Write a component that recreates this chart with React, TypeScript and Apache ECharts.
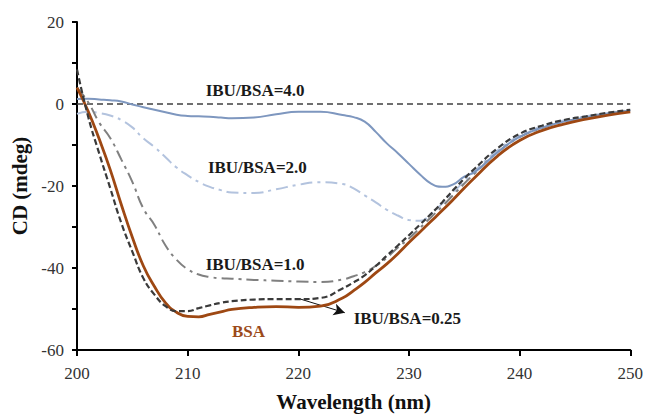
import React, { useEffect, useRef } from "react";
import * as echarts from "echarts";

const wavelengths = [200, 201, 202, 203, 204, 205, 206, 207, 208, 209, 210, 211, 212, 213, 214, 216, 218, 220, 222, 224, 225, 226, 227, 228, 229, 230, 231, 232, 233, 234, 235, 236, 238, 240, 242, 244, 246, 248, 250];

const bsa = [4, -1.7, -8.5, -16, -24.5, -32.5, -39.5, -44.5, -48.5, -50.8, -51.8, -51.9, -51.3, -50.7, -50.1, -49.6, -49.4, -49.6, -49.3, -47.3, -45.5, -43.5, -41.2, -39, -36.5, -33.8, -31.2, -28.6, -26, -23.3, -20.5, -17.8, -12.7, -8.9, -6.5, -4.9, -3.7, -2.7, -1.9];

const ratio025 = [8.4, -3, -12, -20.5, -29, -36, -42.5, -46.5, -49.3, -50.5, -50.5, -49.8, -49.1, -48.5, -48.1, -47.7, -47.6, -47.6, -47.3, -45, -43.5, -41.8, -39.5, -37, -34.5, -32, -29.4, -26.8, -24, -21, -18.2, -15.6, -10.8, -7.3, -5.3, -3.9, -3.0, -2.1, -1.4];

const ratio10 = [4, 0.5, -4.5, -8.3, -13.5, -19, -25.5, -29.5, -34.5, -38, -40.3, -41.6, -42.2, -42.5, -42.6, -42.9, -43.1, -43.3, -43.4, -42.8, -42, -41, -39.5, -37.5, -35, -32.8, -30.2, -27.6, -25, -22.2, -19.4, -16.8, -11.8, -8.1, -5.9, -4.3, -3.3, -2.4, -1.6];

const ratio20 = [-2.4, -1.9, -2.2, -2.8, -3.9, -5.7, -8.4, -10.5, -13, -15.5, -17.4, -19, -20.2, -21, -21.6, -21.7, -20.8, -19.7, -19.1, -19.5, -20.6, -22.3, -24, -25.8, -27.2, -28.3, -28.5, -26.8, -24.3, -21.6, -18.8, -16.2, -11.3, -7.7, -5.5, -4.0, -3.0, -2.2, -1.5];

const ratio40 = [1.2, 1.3, 1.1, 0.9, 0.6, -0.1, -0.8, -1.4, -2.0, -2.6, -2.9, -3.0, -3.1, -3.3, -3.5, -3.3, -2.5, -1.9, -1.9, -2.7, -3.2, -4.3, -6.8, -9.6, -12, -14.6, -17.2, -19.4, -20.2, -19.6, -17.7, -16.5, -11.8, -8.0, -5.8, -4.3, -3.3, -2.4, -1.6];

const xTicks = [200, 210, 220, 230, 240, 250];
const yLabelStep = 20;

// annotation texts: [text, wavelength, value, align, color]
const annotations: [string, number, number, string, string][] = [
  ["IBU/BSA=4.0", 216.1, 3.3, "center", "#1a1a1a"],
  ["IBU/BSA=2.0", 216.3, -15.5, "center", "#1a1a1a"],
  ["IBU/BSA=1.0", 216.1, -39.1, "center", "#1a1a1a"],
  ["BSA", 215.5, -55.6, "center", "#9C4A1A"],
  ["IBU/BSA=0.25", 225.0, -52.3, "left", "#1a1a1a"],
];
const arrowFrom = [220.1, -47.5];
const arrowTo = [224.2, -50.9];

const pair = (ys: number[]) => wavelengths.map((w, i) => [w, ys[i]]);

export default function App() {
  const ref = useRef<HTMLDivElement>(null);
  useEffect(() => {
    if (!ref.current) return;
    const chart = echarts.init(ref.current, undefined, { renderer: "svg" });
    const serif = "Liberation Serif";
    const lineSeries = (name: string, ys: number[], color: string, width: number, type: any, z: number) => ({
      name,
      type: "line",
      data: pair(ys),
      smooth: 0.5,
      showSymbol: false,
      symbol: "none",
      z,
      lineStyle: { color, width, type },
    });
    chart.setOption({
      animation: false,
      textStyle: { fontFamily: serif },
      grid: { left: 77, right: 15, top: 22, bottom: 60, containLabel: false },
      xAxis: {
        type: "value",
        min: xTicks[0],
        max: xTicks[xTicks.length - 1],
        interval: 10,
        name: "Wavelength (nm)",
        nameLocation: "middle",
        nameGap: 41,
        nameTextStyle: { fontFamily: serif, fontWeight: "bold", fontSize: 21, color: "#111" },
        axisLine: { onZero: false, lineStyle: { color: "#000", width: 2 } },
        axisTick: { show: true, length: 6, lineStyle: { color: "#000", width: 2 } },
        axisLabel: { fontFamily: serif, fontSize: 17, color: "#333", margin: 15 },
        splitLine: { show: false },
      },
      yAxis: {
        type: "value",
        min: -60,
        max: 20,
        interval: 10,
        name: "CD (mdeg)",
        nameLocation: "middle",
        nameGap: 45,
        nameTextStyle: { fontFamily: serif, fontWeight: "bold", fontSize: 21, color: "#111" },
        axisLine: { show: true, onZero: false, lineStyle: { color: "#000", width: 2 } },
        axisTick: { show: true, length: 5, lineStyle: { color: "#000", width: 2 } },
        axisLabel: {
          fontFamily: serif,
          fontSize: 17,
          color: "#333",
          margin: 13,
          formatter: (v: number) => (v % yLabelStep === 0 ? String(v) : ""),
        },
        splitLine: { show: false },
      },
      series: [
        {
          name: "zero",
          type: "line",
          data: [[xTicks[0], 0], [xTicks[xTicks.length - 1], 0]],
          showSymbol: false,
          symbol: "none",
          z: 1,
          lineStyle: { color: "#404040", width: 1.5, type: [6, 4] },
        },
        lineSeries("IBU/BSA=2.0", ratio20, "#B3C3DE", 2, [12, 5, 3, 5], 2),
        lineSeries("IBU/BSA=1.0", ratio10, "#808080", 2, [12, 5, 3, 5], 3),
        lineSeries("IBU/BSA=4.0", ratio40, "#7E97BF", 2, "solid", 4),
        lineSeries("BSA", bsa, "#9E4813", 2.8, "solid", 5),
        {
          ...lineSeries("IBU/BSA=0.25", ratio025, "#3A3A3A", 2.2, [6, 3], 6),
          markLine: {
            silent: true,
            symbol: ["none", "arrow"],
            symbolSize: [9, 11],
            label: { show: false },
            lineStyle: { color: "#111", width: 1, type: "solid" },
            data: [[{ coord: arrowFrom }, { coord: arrowTo }]],
          },
        },
      ],
    });
    const graphics = annotations.map(([text, x, y, align, color]) => {
      const p = chart.convertToPixel({ gridIndex: 0 }, [x, y]) as number[];
      return {
        type: "text",
        x: p[0],
        y: p[1],
        style: {
          text,
          fill: color,
          fontFamily: serif,
          fontWeight: "bold",
          fontSize: 17,
          align,
          verticalAlign: "middle",
        },
      };
    });
    chart.setOption({ graphic: graphics });
    return () => chart.dispose();
  }, []);
  return <div ref={ref} style={{ position: "absolute", left: 0, top: 0, width: 646, height: 417 }} />;
}
